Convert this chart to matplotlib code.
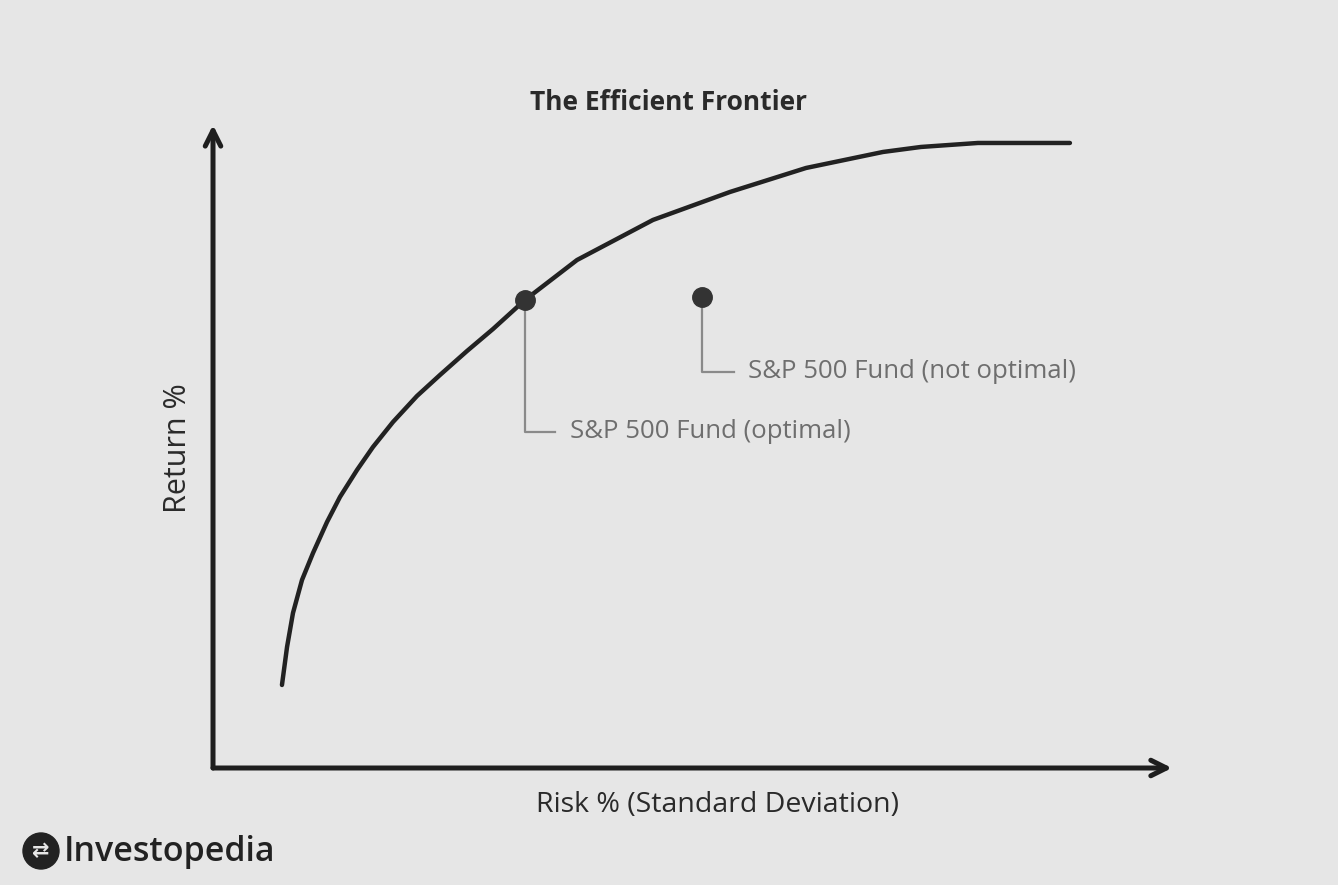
import matplotlib.pyplot as plt
from matplotlib.patches import Ellipse

# === Dados (risco x retorno, escala 0-100) ===
risco = [7.19, 7.72, 8.34, 9.28, 10.43, 11.89, 13.24, 15.02, 16.68, 18.77, 21.27, 23.67,
         26.49, 29.20, 32.53, 37.96, 45.88, 53.91, 61.84, 69.86, 73.83, 79.77, 89.36]
retorno = [12.91, 18.82, 24.11, 29.24, 33.44, 38.26, 42.15, 46.35, 49.92, 53.81, 57.85, 61.12,
           64.85, 68.27, 72.78, 79.00, 85.23, 89.58, 93.31, 95.80, 96.58, 97.20, 97.20]

fundos = ['S&P 500 Fund (optimal)', 'S&P 500 Fund (not optimal)']
fundos_risco = [32.53, 51.0]
fundos_retorno = [72.78, 73.3]
rotulo_x = [37.2, 55.8]
rotulo_y = [52.3, 61.6]

fundo_cor = '#e6e6e6'
texto_cor = '#2a2a2a'

fig = plt.figure(figsize=(13.38, 8.85), dpi=100)
fig.patch.set_facecolor(fundo_cor)
ax = fig.add_axes([0.1592, 0.1322, 0.7167, 0.7266])
ax.set_facecolor(fundo_cor)
ax.set_xlim(0, 100)
ax.set_ylim(0, 100)
for s in ax.spines.values():
    s.set_visible(False)
ax.set_xticks([])
ax.set_yticks([])

# eixos com setas
for fim in [(1.0, 0), (0, 1.0)]:
    ax.annotate('', xy=fim, xytext=(0, 0), xycoords='axes fraction',
                arrowprops=dict(arrowstyle='->', lw=3.6, color='#1e1e1e', mutation_scale=28,
                                shrinkA=0, shrinkB=0))

# fronteira eficiente
ax.plot(risco, retorno, '-', color='#222222', lw=3.2, solid_capstyle='round',
        solid_joinstyle='round', zorder=3)

# fundos e rótulos
ax.plot(fundos_risco, fundos_retorno, 'o', color='#333333', ms=14, zorder=4)
for nome, fx, fy, tx, ty in zip(fundos, fundos_risco, fundos_retorno, rotulo_x, rotulo_y):
    ax.plot([fx, fx, tx - 1.5], [fy, ty, ty], '-', color='#8a8a8a', lw=1.6, zorder=2)
    ax.text(tx, ty, nome, color='#6e6e6e', fontsize=18.5, ha='left', va='center',
            family='Open Sans')

# títulos dos eixos e do gráfico
fig.text(717 / 1338, 1 - 805 / 885, 'Risk % (Standard Deviation)', fontsize=20.5,
         color=texto_cor, ha='center', va='center', family='Open Sans')
fig.text(178 / 1338, 1 - 448 / 885, 'Return %', fontsize=22, color=texto_cor, rotation=90,
         ha='center', va='center', family='Open Sans')
fig.text(0.5, 1 - 103 / 885, 'The Efficient Frontier', fontsize=19, fontweight='bold',
         color=texto_cor, ha='center', va='center', family='Open Sans')

# logo Investopedia
fig.patches.append(Ellipse((41 / 1338, 1 - 851 / 885), 36 / 1338, 36 / 885,
                           transform=fig.transFigure, color='#222222'))
fig.text(41 / 1338, 1 - 851 / 885, '\u21C4', fontsize=15, color=fundo_cor, ha='center',
         va='center', fontweight='bold')
fig.text(64 / 1338, 1 - 852 / 885, 'Investopedia', fontsize=24.5, color='#222222',
         ha='left', va='center', family='Open Sans', fontweight='semibold')

plt.savefig('out.png', dpi=100, facecolor=fig.get_facecolor())
